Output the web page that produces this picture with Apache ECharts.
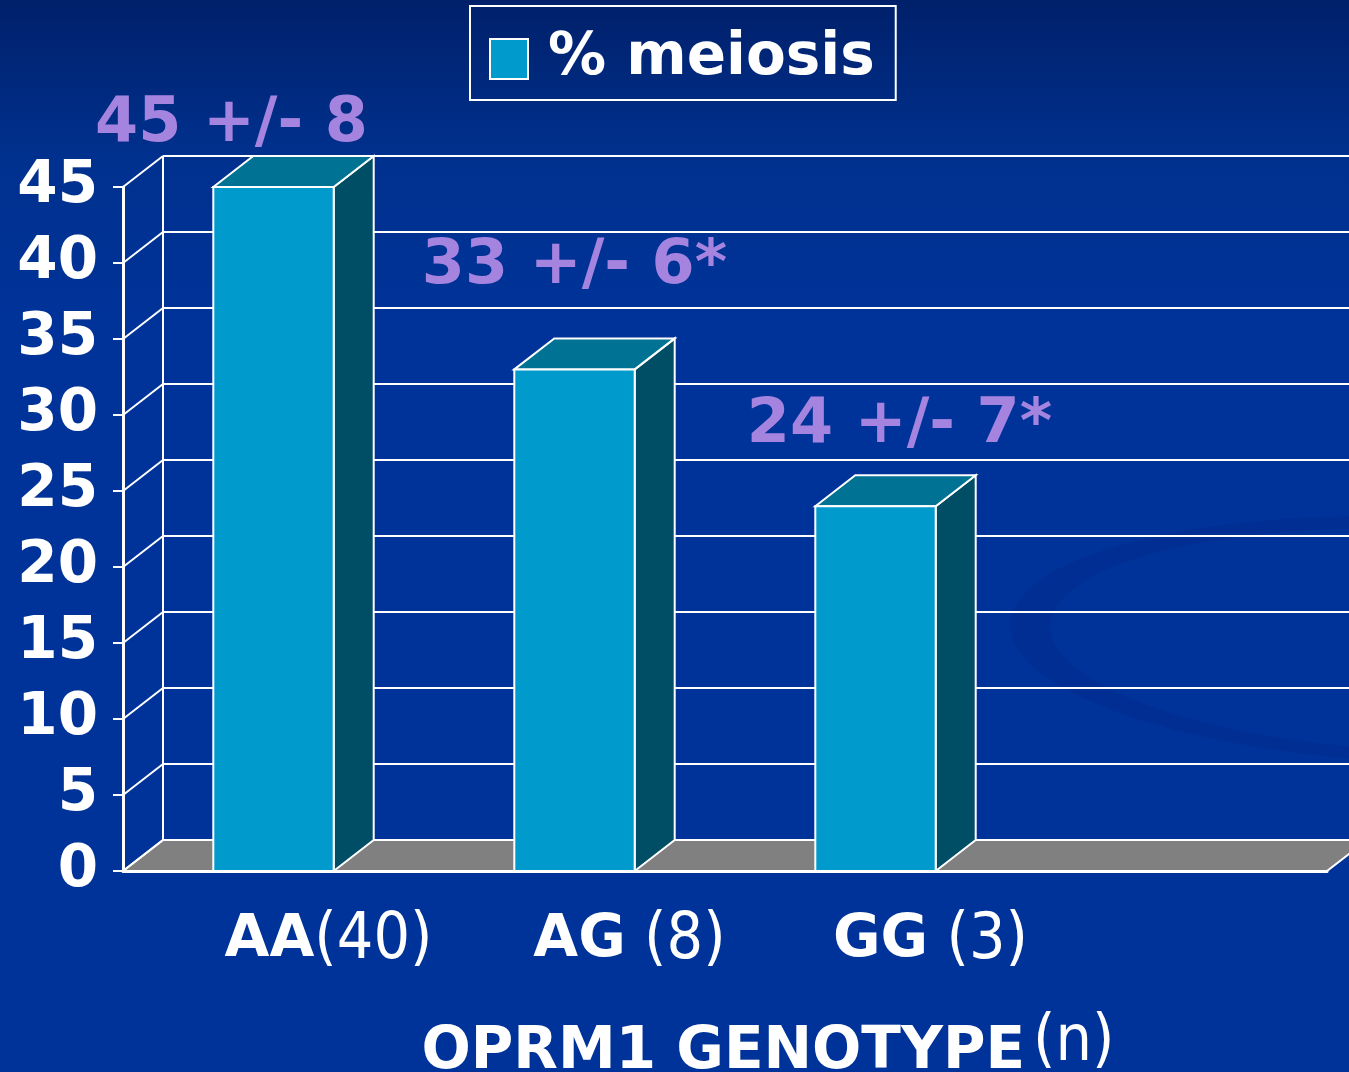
<!DOCTYPE html>
<html>
<head>
<meta charset="utf-8">
<script src="https://cdn.jsdelivr.net/npm/echarts@6/dist/echarts.min.js"></script>
<style>
    html, body { margin: 0; padding: 0; background: #003399; }
    #chart { width: 1349px; height: 1072px; }
</style>
</head>
<body>
<div id="chart"></div>
<script>
const categories = ['AA', 'AG', 'GG', ''];
const counts = [40, 8, 3];
const meiosis = [45, 33, 24];
const errLabels = ['45 +/- 8', '33 +/- 6*', '24 +/- 7*'];
const yTicks = [0, 5, 10, 15, 20, 25, 30, 35, 40, 45];

// 3D depth offset
const DX = 40, DY = -31;
// label nudges (x, y from bar top)
const labelShift = [[-42, -62], [0, -103], [24, -80]];

const myChart = echarts.init(document.getElementById('chart'));

const white = {stroke: '#fff', lineWidth: 2};

const option = {
    backgroundColor: new echarts.graphic.LinearGradient(0, 0, 0, 1, [
        {offset: 0, color: '#00206a'},
        {offset: 0.15, color: '#00318f'},
        {offset: 0.3, color: '#003399'},
        {offset: 1, color: '#003399'},
    ]),
    animation: false,
    graphic: [
        {
            // faint swoosh in the background
            type: 'circle',
            z: -10,
            silent: true,
            x: 1420,
            y: 640,
            scaleY: 0.3,
            rotation: -0.04,
            shape: {cx: 0, cy: 0, r: 390},
            style: {fill: 'none', stroke: 'rgba(0, 28, 120, 0.18)', lineWidth: 40},
        },
    ],
    legend: {
        data: ['% meiosis'],
        left: 470,
        top: 6,
        padding: [24, 21, 12, 19],
        borderColor: '#fff',
        borderWidth: 2,
        icon: 'rect',
        itemWidth: 38,
        itemHeight: 40,
        itemStyle: {borderColor: '#fff', borderWidth: 2},
        textStyle: {
            color: '#fff',
            fontFamily: 'DejaVu Sans',
            fontWeight: 'bold',
            fontSize: 58,
            padding: [0, 0, 0, 15],
        },
    },
    grid: {
        left: 123,
        right: 22,
        top: 187,
        bottom: 201,
        outerBoundsMode: 'none',
    },
    xAxis: {
        type: 'category',
        data: categories,
        axisLine: {lineStyle: {color: '#fff', width: 3}},
        axisTick: {length: 10, lineStyle: {color: '#fff', width: 2}},
        axisLabel: {
            interval: 0,
            margin: 38,
            padding: [0, 0, 0, 110],
            formatter: (v, i) => (v ? `{b|${v}}{n|${i ? ' ' : ''}(${counts[i]})}` : ''),
            rich: {
                b: {color: '#fff', fontFamily: 'DejaVu Sans', fontWeight: 'bold', fontSize: 58},
                n: {color: '#fff', fontFamily: 'DejaVu Sans Condensed', fontSize: 64},
            },
        },
        name: '{b|OPRM1 GENOTYPE}{n|(n)}',
        nameLocation: 'middle',
        nameGap: 140,
        nameTextStyle: {
            padding: [0, 0, 0, 86],
            rich: {
                b: {color: '#fff', fontFamily: 'DejaVu Sans', fontWeight: 'bold', fontSize: 58},
                n: {color: '#fff', fontFamily: 'DejaVu Sans Condensed', fontSize: 64, padding: [0, 0, 20, 8]},
            },
        },
    },
    yAxis: {
        type: 'value',
        min: 0,
        max: 45,
        interval: 5,
        axisLine: {show: true, lineStyle: {color: '#fff', width: 3}},
        axisTick: {show: true, length: 10, lineStyle: {color: '#fff', width: 2}},
        splitLine: {show: false},
        axisLabel: {
            margin: 25,
            color: '#fff',
            fontFamily: 'DejaVu Sans',
            fontWeight: 'bold',
            fontSize: 58,
        },
    },
    series: [
        {
            // floor, back wall and grid lines
            type: 'custom',
            silent: true,
            clip: false,
            z: 1,
            data: [[0, 0]],
            renderItem: (params, api) => {
                const cs = params.coordSys;
                const x0 = cs.x, x1 = cs.x + cs.width;
                const yb = api.coord([0, 0])[1];
                const yt = api.coord([0, yTicks[yTicks.length - 1]])[1];
                const children = [{
                    type: 'polygon',
                    shape: {points: [[x0, yb], [x1, yb], [x1 + DX, yb + DY], [x0 + DX, yb + DY]]},
                    style: {fill: '#808080', stroke: '#fff', lineWidth: 2},
                }, {
                    type: 'line',
                    shape: {x1: x0 + DX, y1: yt + DY, x2: x0 + DX, y2: yb + DY},
                    style: white,
                }];
                yTicks.forEach(v => {
                    const y = api.coord([0, v])[1];
                    children.push({type: 'line', shape: {x1: x0, y1: y, x2: x0 + DX, y2: y + DY}, style: white});
                    children.push({type: 'line', shape: {x1: x0 + DX, y1: y + DY, x2: x1 + DX, y2: y + DY}, style: white});
                });
                return {type: 'group', children};
            },
        },
        {
            name: '% meiosis',
            type: 'custom',
            clip: false,
            z: 3,
            itemStyle: {color: '#009acd'},
            encode: {x: 0, y: 1},
            data: meiosis.map((v, i) => [i, v]),
            renderItem: (params, api) => {
                const i = api.value(0);
                const [cx, top] = api.coord([i, api.value(1)]);
                const base = api.coord([i, 0])[1];
                const hw = api.size([1, 0])[0] * 0.2;
                const l = cx - hw, r = cx + hw;
                return {
                    type: 'group',
                    children: [
                        {
                            type: 'polygon',
                            shape: {points: [[r, top], [r + DX, top + DY], [r + DX, base + DY], [r, base]]},
                            style: {fill: '#004d66', stroke: '#fff', lineWidth: 2},
                        },
                        {
                            type: 'polygon',
                            shape: {points: [[l, top], [l + DX, top + DY], [r + DX, top + DY], [r, top]]},
                            style: {fill: '#007294', stroke: '#fff', lineWidth: 2},
                        },
                        {
                            type: 'rect',
                            shape: {x: l, y: top, width: r - l, height: base - top},
                            style: {fill: '#009acd', stroke: '#fff', lineWidth: 2},
                        },
                        {
                            type: 'text',
                            x: cx + labelShift[i][0],
                            y: top + labelShift[i][1],
                            style: {
                                text: errLabels[i],
                                fill: '#a584e0',
                                font: 'bold 62px "DejaVu Sans"',
                                align: 'center',
                                verticalAlign: 'middle',
                            },
                        },
                    ],
                };
            },
        },
    ],
};

myChart.setOption(option);
</script>
</body>
</html>
